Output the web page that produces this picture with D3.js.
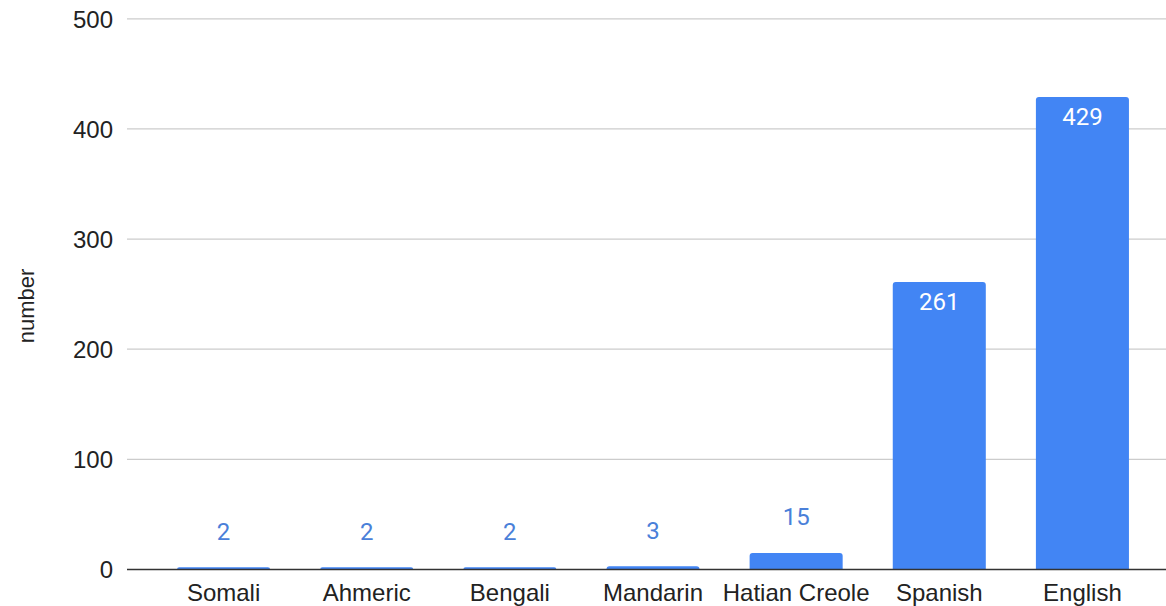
<!DOCTYPE html>
<html><head><meta charset="utf-8">
<script src="https://cdn.jsdelivr.net/npm/d3@7"></script>
<style>body{margin:0;background:#fff}svg{display:block}</style>
</head><body>
<svg id="c" width="1166" height="606"></svg>
<script>
const categories = ["Somali","Ahmeric","Bengali","Mandarin","Hatian Creole","Spanish","English"];
const values = [2,2,2,3,15,261,429];
const yTicks = [0,100,200,300,400,500];
const yTitle = "number";

const svg = d3.select("#c");
const x = d3.scaleBand().domain(categories).range([152,1154]).paddingInner(0.35).paddingOuter(0.175);
const y = d3.scaleLinear().domain([0,500]).range([569.5,18.8]);
const gridX0 = 127, gridX1 = 1166;
const FONT = "Liberation Sans, Arial, sans-serif";

// gridlines
svg.append("g").selectAll("line").data(yTicks.filter(d=>d>0)).join("line")
  .attr("x1",gridX0).attr("x2",gridX1)
  .attr("y1",d=>y(d)).attr("y2",d=>y(d))
  .attr("stroke","#cccccc").attr("stroke-width",1.3);

// y tick labels
const yAxis = d3.axisLeft(y).tickValues(yTicks).tickSize(0).tickPadding(0);
const ga = svg.append("g").attr("transform",`translate(113,0)`).call(yAxis);
ga.select(".domain").remove();
ga.selectAll("text").attr("font-family",FONT).attr("font-size",24).attr("fill","#222").attr("dy","0.35em");

// bars with rounded top corners
function barPath(x0,w,yt,yb,r){
  r = Math.min(r, (yb-yt), w/2);
  return `M${x0},${yb}V${yt+r}Q${x0},${yt} ${x0+r},${yt}H${x0+w-r}Q${x0+w},${yt} ${x0+w},${yt+r}V${yb}Z`;
}
const data = categories.map((c,i)=>({c,v:values[i]}));
svg.append("g").selectAll("path").data(data).join("path")
  .attr("d",d=>barPath(x(d.c),x.bandwidth(),y(d.v),y(0),3))
  .attr("fill","#4285f4");

// baseline
svg.append("line").attr("x1",gridX0).attr("x2",gridX1).attr("y1",y(0)).attr("y2",y(0))
  .attr("stroke","#333").attr("stroke-width",1.3);

// value labels
svg.append("g").selectAll("text").data(data).join("text")
  .attr("x",d=>x(d.c)+x.bandwidth()/2)
  .attr("y",d=> d.v>50 ? y(d.v)+20 : y(d.v)-36)
  .attr("dy","0.35em")
  .attr("text-anchor","middle")
  .attr("font-family","Roboto, sans-serif").attr("font-size",24)
  .attr("fill",d=> d.v>50 ? "#ffffff" : "#4a80d9")
  .text(d=>d.v);

// x axis labels
const xAxis = d3.axisBottom(x).tickSize(0).tickPadding(0);
const gx = svg.append("g").attr("transform",`translate(0,${y(0)})`).call(xAxis);
gx.select(".domain").remove();
gx.selectAll("text").attr("font-family",FONT).attr("font-size",24).attr("fill","#222")
  .attr("dy",null).attr("y",31);

// y title
svg.append("text").attr("transform","translate(26,306) rotate(-90)")
  .attr("text-anchor","middle").attr("dy","0.35em").attr("font-family",FONT)
  .attr("font-size",22).attr("fill","#222").text(yTitle);
</script>
</body></html>
